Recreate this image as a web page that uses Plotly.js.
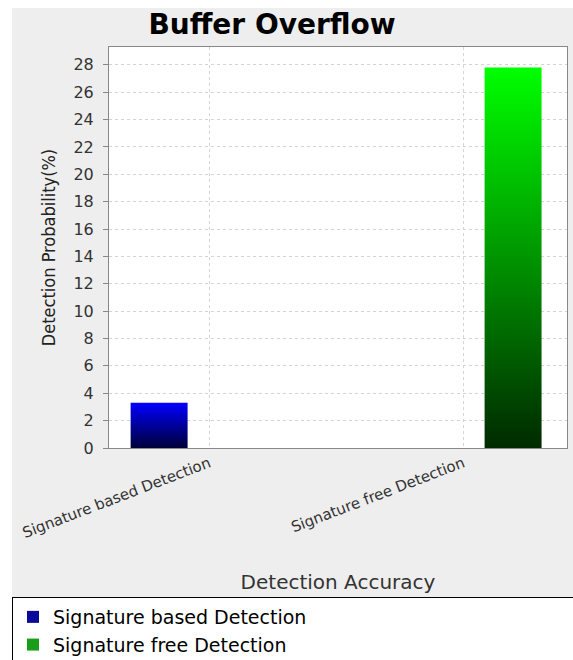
<!DOCTYPE html>
<html>
<head>
<meta charset="utf-8">
<script src="https://cdn.plot.ly/plotly-3.0.1.min.js"></script>
<style>
  html, body { margin: 0; padding: 0; background: #ffffff; }
  #chart { position: absolute; left: 12px; top: 8px; width: 561px; height: 652px; }
</style>
</head>
<body>
<div id="chart"></div>
<script>
// ---- data ----
var categories = ["Signature based Detection", "Signature free Detection"];
var seriesNames = ["Signature based Detection", "Signature free Detection"];
var signatureBased = [3.3, null];
var signatureFree = [null, 27.8];
var yTickValues = [0, 2, 4, 6, 8, 10, 12, 14, 16, 18, 20, 22, 24, 26, 28];

var FONT = "DejaVu Sans, Verdana, sans-serif";

var data = [
  {
    type: "bar",
    name: seriesNames[0],
    x: categories,
    y: signatureBased,
    marker: { color: "#0a0a9a", line: { width: 0 } },
    hoverinfo: "none"
  },
  {
    type: "bar",
    name: seriesNames[1],
    x: categories,
    y: signatureFree,
    marker: { color: "#1a9e1a", line: { width: 0 } },
    hoverinfo: "none"
  }
];

var layout = {
  width: 561,
  height: 652,
  paper_bgcolor: "#eeeeee",
  plot_bgcolor: "#ffffff",
  margin: { l: 97, r: 6, t: 39, b: 212, pad: 0 },
  barmode: "group",
  bargap: 0.213,
  bargroupgap: 0.43,
  title: {
    text: "<b>Buffer Overflow</b>",
    font: { family: FONT, size: 28, color: "#000000" },
    xref: "container", yref: "container",
    x: 0.4635, xanchor: "center",
    y: 0.9755, yanchor: "middle"
  },
  xaxis: {
    type: "category",
    range: [-0.394, 1.409],
    showgrid: true,
    gridcolor: "#d4d4d4",
    griddash: "3px,3px",
    gridwidth: 1,
    showline: true,
    linecolor: "#888888",
    linewidth: 1,
    mirror: true,
    ticks: "",
    tickangle: -21,
    tickfont: { family: FONT, size: 15, color: "#333333" },
    title: {
      text: "Detection Accuracy",
      font: { family: FONT, size: 20, color: "#333333" },
      standoff: 34
    },
    automargin: false,
    fixedrange: true
  },
  yaxis: {
    range: [0, 29.3],
    tickvals: yTickValues,
    ticktext: yTickValues.map(String),
    showgrid: true,
    gridcolor: "#d4d4d4",
    griddash: "3px,3px",
    gridwidth: 1,
    zeroline: false,
    showline: true,
    linecolor: "#888888",
    linewidth: 1,
    mirror: true,
    ticks: "outside",
    ticklen: 5,
    tickcolor: "#888888",
    ticklabelstandoff: 6,
    tickfont: { family: FONT, size: 16, color: "#333333" },
    title: {
      text: "Detection Probability(%)",
      font: { family: "DejaVu Sans Condensed, Liberation Sans Narrow, " + FONT, size: 18, color: "#222222" },
      standoff: 13
    },
    automargin: false,
    fixedrange: true
  },
  showlegend: true,
  legend: {
    orientation: "h",
    entrywidth: 530,
    entrywidthmode: "pixels",
    xref: "container", yref: "container",
    x: 0.0, xanchor: "left",
    y: 0.0966, yanchor: "top",
    bgcolor: "#ffffff",
    bordercolor: "#000000",
    borderwidth: 1,
    font: { family: FONT, size: 19, color: "#000000" },
    traceorder: "normal"
  }
};

var gd = document.getElementById("chart");
Plotly.newPlot(gd, data, layout, { staticPlot: true, displayModeBar: false }).then(function () {
  var svgNS = "http://www.w3.org/2000/svg";
  var svg = gd.querySelector("svg.main-svg");
  var defs = svg.querySelector("defs") || svg.insertBefore(document.createElementNS(svgNS, "defs"), svg.firstChild);
  function addGrad(id, top, bottom) {
    var g = document.createElementNS(svgNS, "linearGradient");
    g.setAttribute("id", id);
    g.setAttribute("x1", "0"); g.setAttribute("y1", "0");
    g.setAttribute("x2", "0"); g.setAttribute("y2", "1");
    [[0, top], [1, bottom]].forEach(function (s) {
      var st = document.createElementNS(svgNS, "stop");
      st.setAttribute("offset", String(s[0]));
      st.setAttribute("stop-color", s[1]);
      g.appendChild(st);
    });
    defs.appendChild(g);
  }
  addGrad("gradBlue", "#0000ff", "#000038");
  addGrad("gradGreen", "#00ff00", "#002a00");
  var traces = gd.querySelectorAll(".barlayer .trace");
  var grads = ["url(#gradBlue)", "url(#gradGreen)"];
  traces.forEach(function (t, i) {
    t.querySelectorAll("path").forEach(function (p) { p.style.fill = grads[i]; });
  });
});
</script>
</body>
</html>
